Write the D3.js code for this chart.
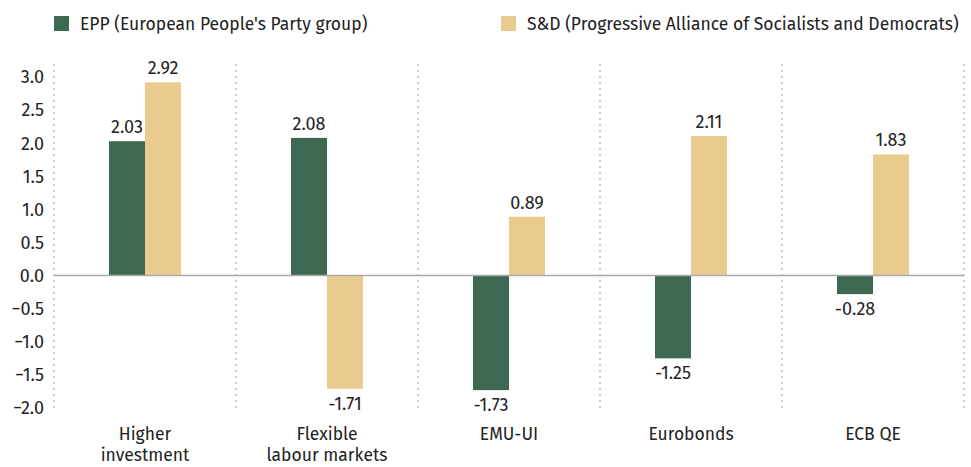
<!DOCTYPE html>
<html>
<head>
<meta charset="utf-8">
<script src="https://cdn.jsdelivr.net/npm/d3@7"></script>
<style>
  body { margin: 0; background: #fff; }
  text { font-family: "Fira Sans", "Open Sans", "Noto Sans", sans-serif; fill: #222; }
</style>
</head>
<body>
<div id="viz"></div>
<script>
var width = 971;
var height = 467;

var categories = ["Higher\ninvestment", "Flexible\nlabour markets", "EMU-UI", "Eurobonds", "ECB QE"];
var seriesNames = ["EPP (European People's Party group)", "S&D (Progressive Alliance of Socialists and Democrats)"];
var eppValues = [2.03, 2.08, -1.73, -1.25, -0.28];
var sdValues = [2.92, -1.71, 0.89, 2.11, 1.83];
var yTicks = [3.0, 2.5, 2.0, 1.5, 1.0, 0.5, 0.0, -0.5, -1.0, -1.5, -2.0];
var colors = ["#3d6953", "#e9cb8d"];

var svg = d3.select("#viz")
    .append("svg")
    .attr("width", width)
    .attr("height", height);

var x = d3.scaleBand()
    .domain(categories)
    .range([54, 964])
    .padding(0);

var y = d3.scaleLinear()
    .domain([-2, 3])
    .range([408, 77]);

var barW = 36;

// dotted separators
var seps = [54].concat(categories.map(function(c) { return x(c) + x.bandwidth(); }));
svg.selectAll("line.sep")
    .data(seps)
    .enter()
    .append("line")
    .attr("class", "sep")
    .attr("x1", function(d) { return d; })
    .attr("x2", function(d) { return d; })
    .attr("y1", 64)
    .attr("y2", 410)
    .attr("stroke", "#999")
    .attr("stroke-width", 1)
    .attr("stroke-dasharray", "2,4");

// y tick labels
svg.selectAll("text.ytick")
    .data(yTicks)
    .enter()
    .append("text")
    .attr("class", "ytick")
    .attr("x", 44)
    .attr("y", function(d) { return y(d); })
    .attr("dy", "0.35em")
    .attr("text-anchor", "end")
    .style("font-size", "18px")
    .text(function(d) { return d3.format(".1f")(d); });

// bars
var series = [eppValues, sdValues];
series.forEach(function(vals, s) {
  var g = svg.append("g");
  g.selectAll("rect")
      .data(vals)
      .enter()
      .append("rect")
      .attr("x", function(d, i) { return x(categories[i]) + x.bandwidth() / 2 - barW + s * barW; })
      .attr("y", function(d) { return y(Math.max(0, d)); })
      .attr("width", barW)
      .attr("height", function(d) { return Math.abs(y(d) - y(0)); })
      .attr("fill", colors[s]);
  g.selectAll("text")
      .data(vals)
      .enter()
      .append("text")
      .attr("x", function(d, i) { return x(categories[i]) + x.bandwidth() / 2 - barW / 2 + s * barW; })
      .attr("y", function(d) { return d >= 0 ? y(d) - 8 : y(d) + 21; })
      .attr("text-anchor", "middle")
      .style("font-size", "18px")
      .text(function(d) { return d.toFixed(2); });
});

// zero line
svg.append("line")
    .attr("x1", 54)
    .attr("x2", 964)
    .attr("y1", y(0))
    .attr("y2", y(0))
    .attr("stroke", "#aaa")
    .attr("stroke-width", 1.5);

// category labels
categories.forEach(function(c) {
  var t = svg.append("text")
      .attr("x", x(c) + x.bandwidth() / 2)
      .attr("y", 440)
      .attr("text-anchor", "middle")
      .style("font-size", "17.5px");
  c.split("\n").forEach(function(line, i) {
    t.append("tspan")
        .attr("x", x(c) + x.bandwidth() / 2)
        .attr("dy", i === 0 ? 0 : 21)
        .text(line);
  });
});

// legend
var legendX = [54, 501];
seriesNames.forEach(function(name, i) {
  svg.append("rect")
      .attr("x", legendX[i])
      .attr("y", 16)
      .attr("width", 15)
      .attr("height", 15)
      .attr("fill", colors[i]);
  svg.append("text")
      .attr("x", legendX[i] + 26)
      .attr("y", 24)
      .attr("dy", "0.35em")
      .style("font-size", "17.5px")
      .text(name);
});
</script>
</body>
</html>
